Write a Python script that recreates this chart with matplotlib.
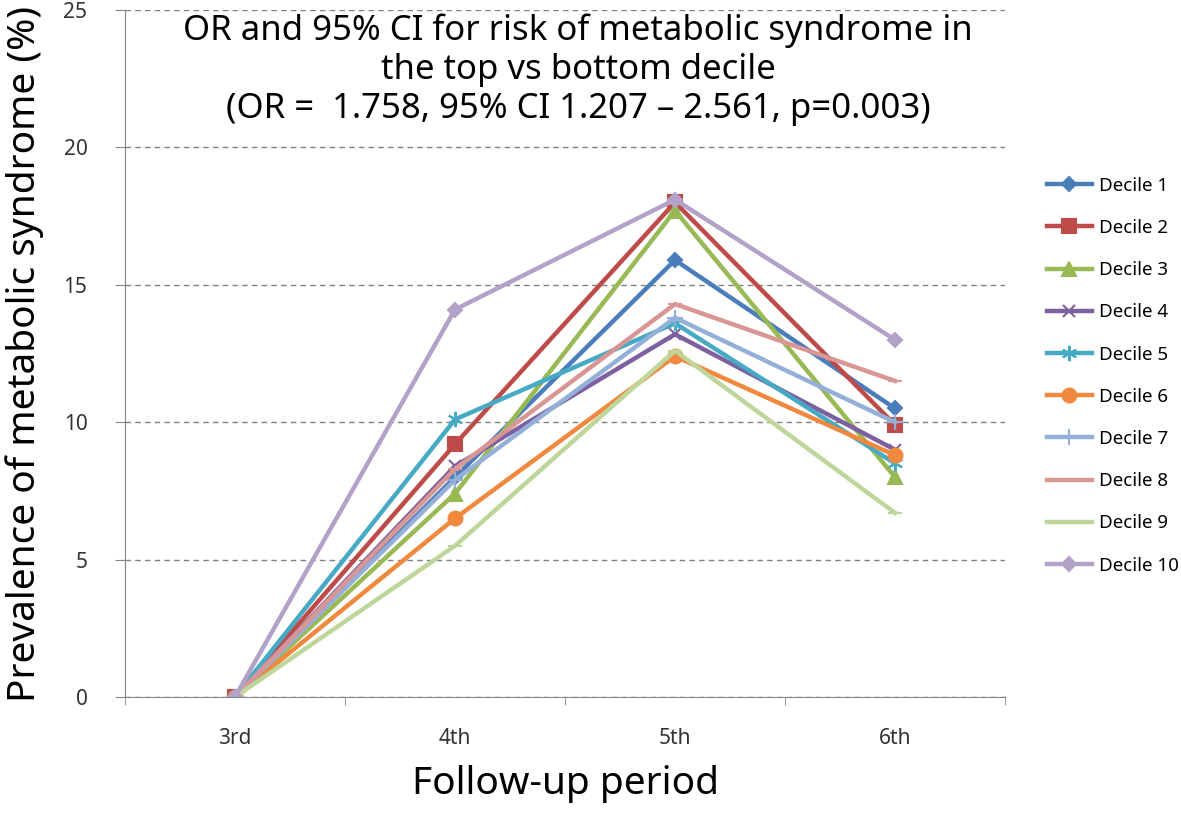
import matplotlib
matplotlib.use("Agg")
import matplotlib.pyplot as plt
import numpy as np

plt.rcParams['font.family'] = ['Noto Sans', 'DejaVu Sans']

# Data
periods = ['3rd', '4th', '5th', '6th']
decile_1 = [0, 8.0, 15.9, 10.5]
decile_2 = [0, 9.2, 18.0, 9.9]
decile_3 = [0, 7.4, 17.7, 8.0]
decile_4 = [0, 8.4, 13.2, 9.0]
decile_5 = [0, 10.1, 13.6, 8.5]
decile_6 = [0, 6.5, 12.4, 8.8]
decile_7 = [0, 7.9, 13.8, 10.0]
decile_8 = [0, 8.3, 14.3, 11.5]
decile_9 = [0, 5.5, 12.6, 6.7]
decile_10 = [0, 14.1, 18.1, 13.0]

series = [decile_1, decile_2, decile_3, decile_4, decile_5,
          decile_6, decile_7, decile_8, decile_9, decile_10]
labels = ['Decile %d' % i for i in range(1, 11)]
colors = ['#4A7EBB', '#BE4B48', '#98B954', '#7D60A0', '#46AAC5',
          '#F0893E', '#95B0D8', '#D99694', '#BFD69B', '#B3A2C7']
markers = ['D', 's', '^', 'x', (6, 2, 0), 'o', '+', '_', '_', 'D']
msizes = [7, 10, 10, 9, 11, 10, 12, 10, 10, 7]

fig = plt.figure(figsize=(11.81, 8.13), dpi=100)
ax = fig.add_axes([125 / 1181, 1 - 697 / 813, 880 / 1181, 687 / 813])

x = np.arange(len(periods))
for vals, lab, c, m, ms in zip(series, labels, colors, markers, msizes):
    ax.plot(x, vals, color=c, lw=3.2, marker=m, markersize=ms,
            markeredgewidth=1.5, markeredgecolor=c, label=lab,
            solid_joinstyle='round')

ax.set_xlim(-0.5, 3.5)
ax.set_ylim(0, 25)
ax.set_yticks([0, 5, 10, 15, 20, 25])
ax.yaxis.grid(True, linestyle=(0, (4, 3)), color='#808080', lw=1)
ax.set_axisbelow(True)

ax.set_xticks(x)
ax.set_xticklabels(periods, fontsize=15)
ax.set_xticks(np.arange(-0.5, 4, 1), minor=True)
ax.tick_params(axis='x', which='major', length=0, pad=22, labelcolor='#333333')
ax.tick_params(axis='x', which='minor', length=6, color='#868686', direction='out')
ax.tick_params(axis='y', labelsize=15, length=7, color='#868686', pad=20,
               labelcolor='#333333')

for s in ['top', 'right']:
    ax.spines[s].set_visible(False)
ax.spines['left'].set_color('#868686')
ax.spines['bottom'].set_color('#868686')

ax.set_ylabel('Prevalence of metabolic syndrome (%)', fontsize=28, labelpad=14)
ax.set_xlabel('Follow-up period', fontsize=28, labelpad=12)

ax.text(0.515, 0.995,
        'OR and 95% CI for risk of metabolic syndrome in\n'
        'the top vs bottom decile\n'
        '(OR =  1.758, 95% CI 1.207 \u2013 2.561, p=0.003)',
        transform=ax.transAxes, ha='center', va='top', fontsize=25,
        linespacing=1.2)

fig.legend(loc='upper left', bbox_to_anchor=(1030 / 1181, 1 - 160 / 813),
           frameon=False, fontsize=13.5, handlelength=2.4,
           labelspacing=1.29, handletextpad=0.4)

fig.savefig('out.png', dpi=100)
